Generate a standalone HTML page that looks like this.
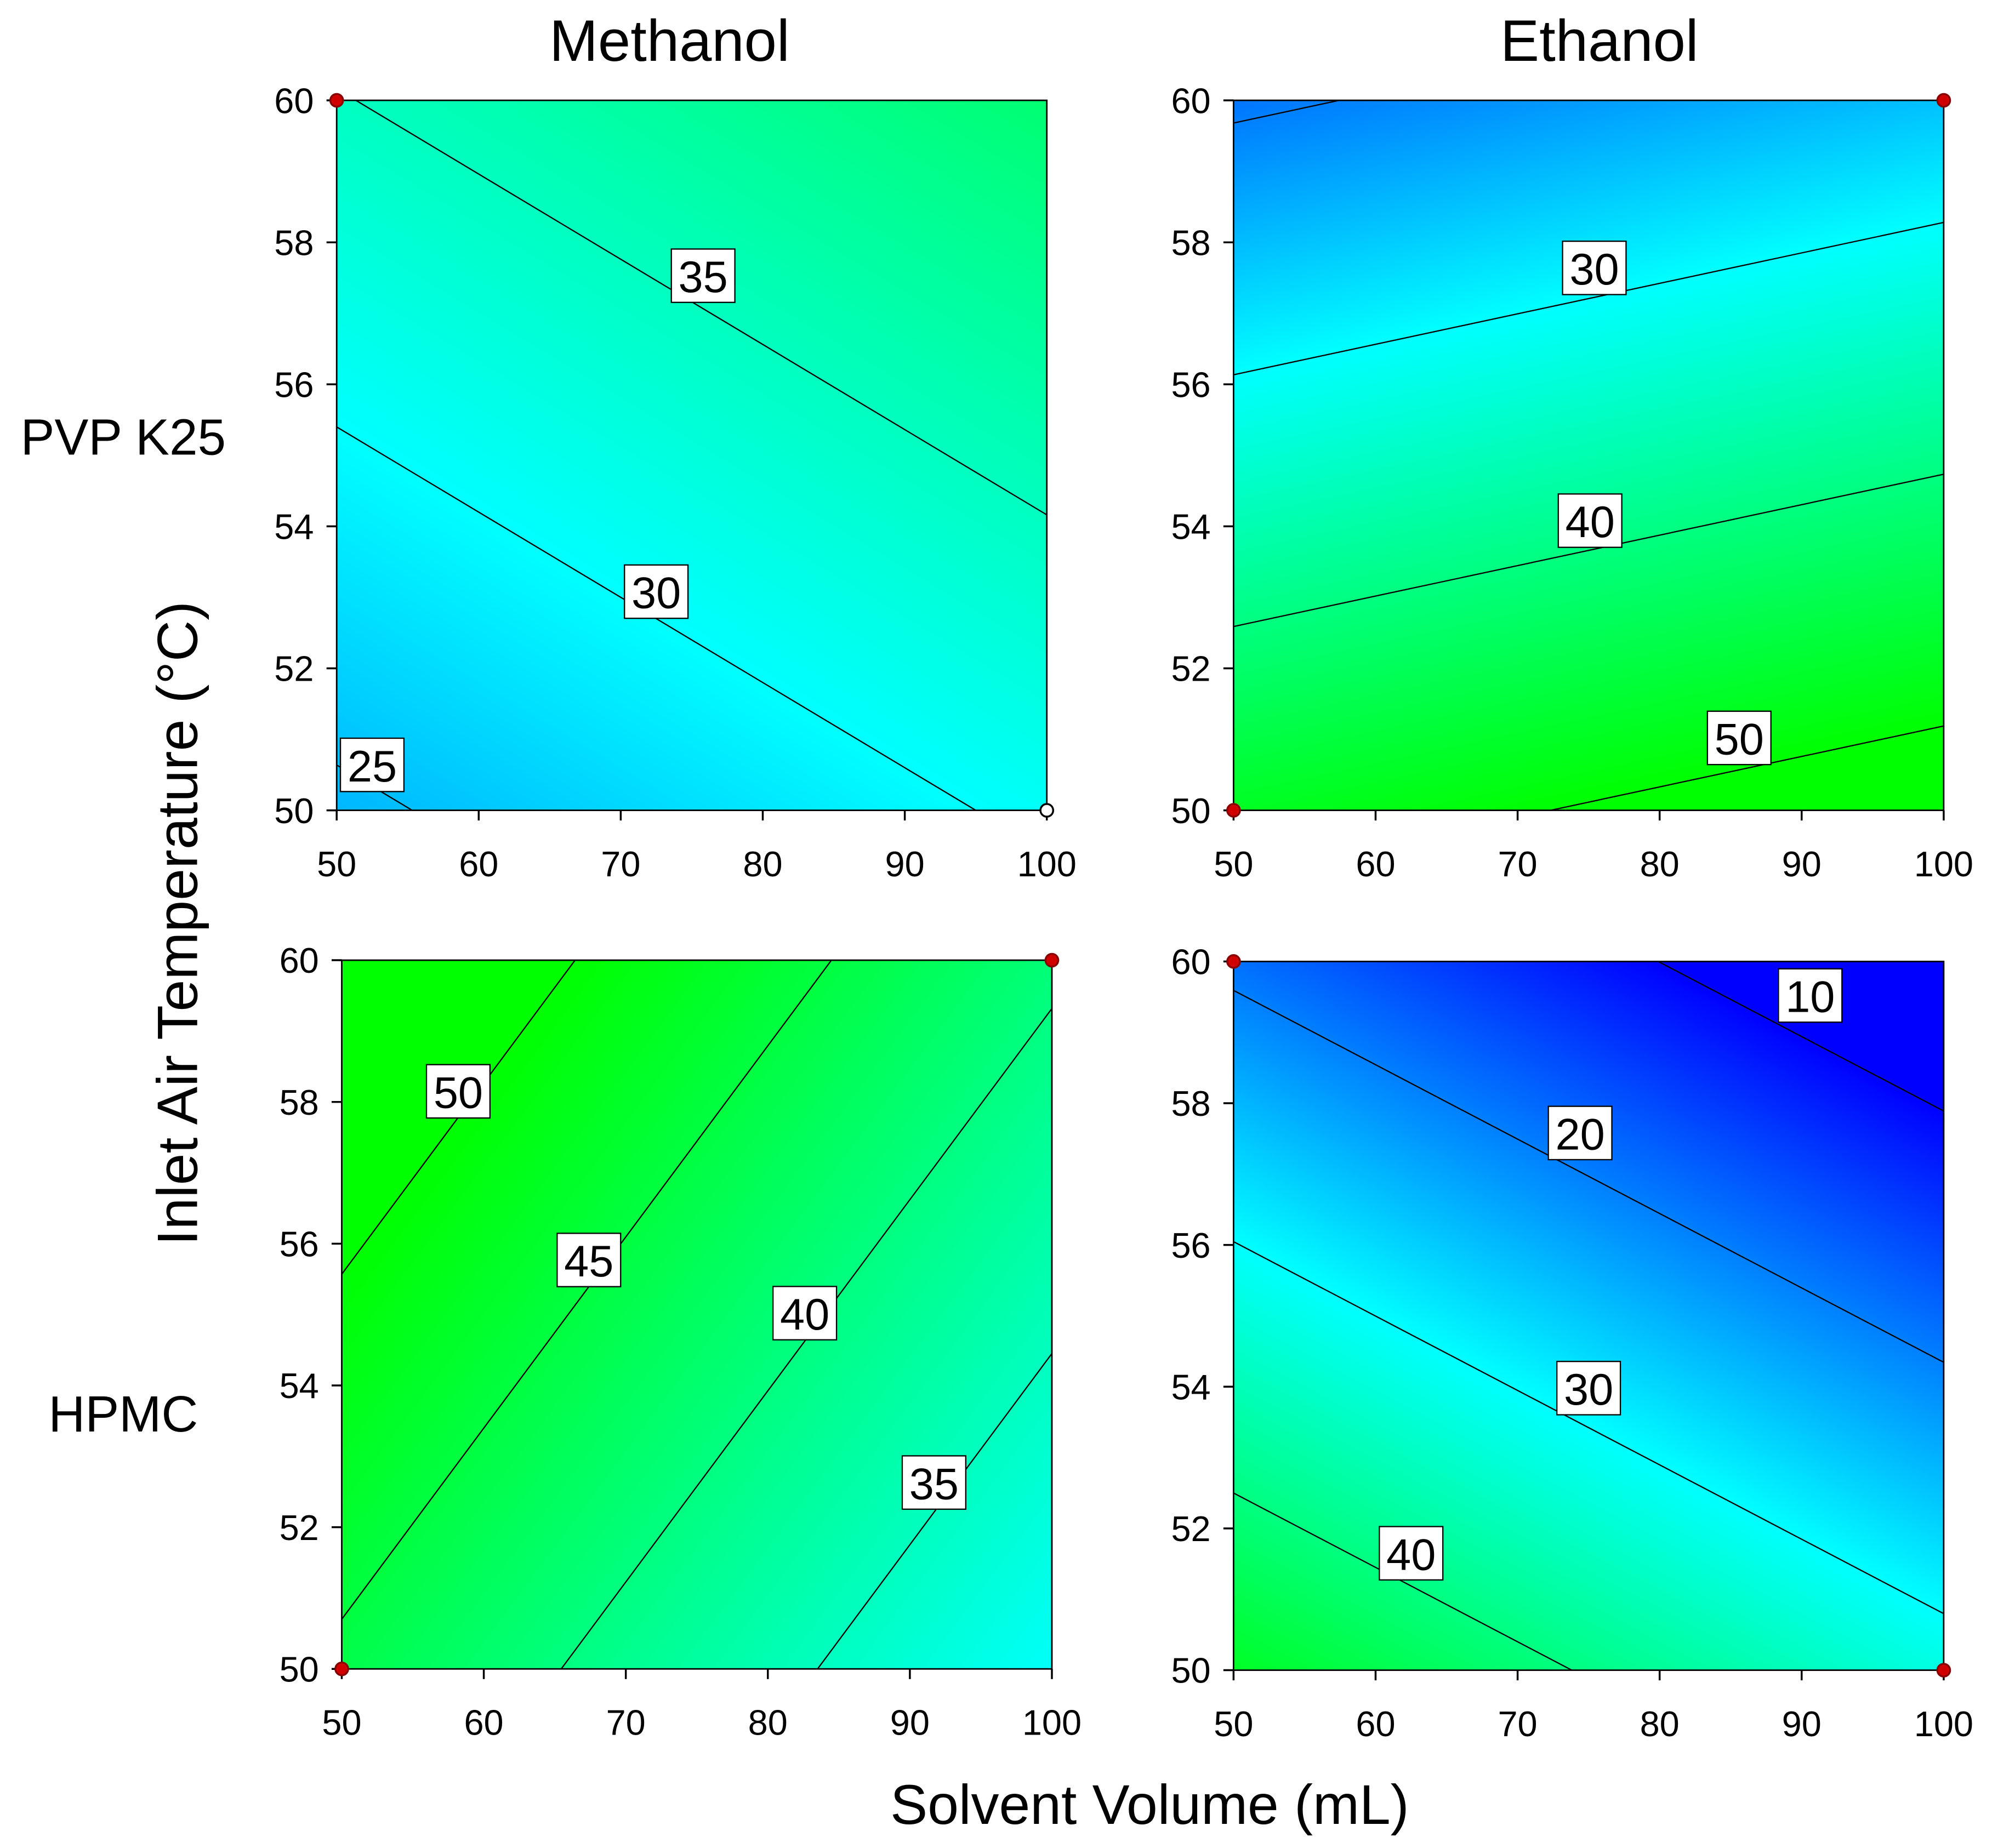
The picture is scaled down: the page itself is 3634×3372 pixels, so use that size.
<!DOCTYPE html>
<html><head><meta charset="utf-8"><style>
html,body{margin:0;padding:0;background:#fff;overflow:hidden;width:3634px;height:3372px;}
svg{display:block;font-family:"Liberation Sans",sans-serif;}
</style></head><body>
<svg id="chart" width="3634" height="3372" viewBox="0 0 1568 1455" xmlns="http://www.w3.org/2000/svg">
<defs id="defs"></defs>
<g id="plots"></g>
<text x="527" y="48" font-size="46" text-anchor="middle">Methanol</text>
<text x="1259" y="48" font-size="46" text-anchor="middle">Ethanol</text>
<text x="97" y="358" font-size="40" text-anchor="middle">PVP K25</text>
<text x="97" y="1127" font-size="40" text-anchor="middle">HPMC</text>
<text x="0" y="0" font-size="45" text-anchor="middle" transform="translate(155,727) rotate(-90)">Inlet Air Temperature (°C)</text>
<text x="905" y="1436" font-size="44" text-anchor="middle">Solvent Volume (mL)</text>
</svg>
<script>
// corner values: [v(50,50), v(100,50), v(50,60)]
const cornersTL = [24.33, 30.63, 34.83];
const cornersTR = [47.3, 53.35, 19.1];
const cornersBL = [44.28, 30.43, 54.55];
const cornersBR = [47.05, 32.25, 18.85];
const levelsTL = [25, 30, 35];
const levelsTR = [20, 30, 40, 50];
const levelsBL = [35, 40, 45, 50];
const levelsBR = [10, 20, 30, 40];
// [level, x, y] label anchor positions in data units
const labelsTL = [[25, 52.5, 50.64], [30, 72.5, 53.08], [35, 75.8, 57.53]];
const labelsTR = [[30, 75.4, 57.64], [40, 75.1, 54.08], [50, 85.6, 51.02]];
const labelsBL = [[50, 58.2, 58.15], [45, 67.4, 55.77], [40, 82.6, 55.02], [35, 91.7, 52.63]];
const labelsBR = [[10, 90.6, 59.52], [20, 74.4, 57.58], [30, 75, 53.98], [40, 62.5, 51.65]];
const pointsTL = [[50, 60, 'red'], [100, 50, 'open']];
const pointsTR = [[100, 60, 'red'], [50, 50, 'red']];
const pointsBL = [[100, 60, 'red'], [50, 50, 'red']];
const pointsBR = [[50, 60, 'red'], [100, 50, 'red']];
const xTicks = [50, 60, 70, 80, 90, 100];
const yTicks = [50, 52, 54, 56, 58, 60];

const NS = 'http://www.w3.org/2000/svg';
const plots = document.getElementById('plots');
const defs = document.getElementById('defs');
function mk(tag, attrs, parent) {
  const e = document.createElementNS(NS, tag);
  for (const k in attrs) e.setAttribute(k, attrs[k]);
  parent.appendChild(e); return e;
}
const panels = [
  {id: 'tl', L: 265, R: 824, T: 79, B: 638, c: cornersTL, lv: levelsTL, lb: labelsTL, pts: pointsTL},
  {id: 'tr', L: 971, R: 1530, T: 79, B: 638, c: cornersTR, lv: levelsTR, lb: labelsTR, pts: pointsTR},
  {id: 'bl', L: 269, R: 828, T: 756, B: 1314, c: cornersBL, lv: levelsBL, lb: labelsBL, pts: pointsBL},
  {id: 'br', L: 971, R: 1530, T: 757, B: 1315, c: cornersBR, lv: levelsBR, lb: labelsBR, pts: pointsBR}
];
panels.forEach(p => {
  const sx = (p.R - p.L) / 50, sy = (p.B - p.T) / 10;
  const X = x => p.L + (x - 50) * sx, Y = y => p.B - (y - 50) * sy;
  const v0 = p.c[0], b = (p.c[1] - p.c[0]) / 50, c = (p.c[2] - p.c[0]) / 10;
  const V = (x, y) => v0 + b * (x - 50) + c * (y - 50);
  const g = mk('g', {}, plots);
  
  
  const gx = b / sx, gy = -c / sy, g2 = gx * gx + gy * gy;
  const cx = (p.L + p.R) / 2, cy = (p.T + p.B) / 2, vc = V(75, 55);
  const P = v => [cx + gx * (v - vc) / g2, cy + gy * (v - vc) / g2];
  const p1 = P(10), p2 = P(50);
  const lg = mk('linearGradient', {id: 'grad-' + p.id, gradientUnits: 'userSpaceOnUse', x1: p1[0], y1: p1[1], x2: p2[0], y2: p2[1]}, defs);
  mk('stop', {offset: 0, 'stop-color': 'rgb(0,0,255)'}, lg);
  mk('stop', {offset: 0.5, 'stop-color': 'rgb(0,255,255)'}, lg);
  mk('stop', {offset: 1, 'stop-color': 'rgb(0,255,0)'}, lg);
  const cp = mk('clipPath', {id: 'clip-' + p.id}, defs);
  mk('rect', {x: p.L, y: p.T, width: p.R - p.L, height: p.B - p.T}, cp);
  const bg = mk('rect', {x: p.L, y: p.T, width: p.R - p.L, height: p.B - p.T, fill: 'url(#grad-' + p.id + ')'}, g);
  
  
  const cg = mk('g', {'clip-path': 'url(#clip-' + p.id + ')'}, g);
  p.lv.forEach(lv => {
    const yAt = x => 50 + (lv - v0 - b * (x - 50)) / c;
    const ln = mk('line', {x1: X(40), y1: Y(yAt(40)), x2: X(110), y2: Y(yAt(110)), stroke: '#000', 'stroke-width': 1}, cg);
    
    
  });
  p.lb.forEach(([lv, lx, ly]) => {
    const px = X(lx), py = Y(ly);
    const lg2 = mk('g', {}, g);
    
    
    mk('rect', {x: px - 25, y: py - 21, width: 50, height: 42, fill: '#fff', stroke: '#000', 'stroke-width': 1}, lg2);
    const t = mk('text', {x: px, y: py + 13, 'font-size': 35, 'text-anchor': 'middle'}, lg2);
    t.textContent = lv;
  });
  const fr = mk('rect', {x: p.L, y: p.T, width: p.R - p.L, height: p.B - p.T, fill: 'none', stroke: '#000', 'stroke-width': 1.2}, g);
  
  
  xTicks.forEach(t => {
    mk('line', {x1: X(t), y1: p.B, x2: X(t), y2: p.B + 8, stroke: '#000', 'stroke-width': 1.5}, g);
    const tx = mk('text', {x: X(t), y: p.B + 52, 'font-size': 28, 'text-anchor': 'middle'}, g);
    
    
    tx.textContent = t;
  });
  yTicks.forEach(t => {
    mk('line', {x1: p.L - 8, y1: Y(t), x2: p.L, y2: Y(t), stroke: '#000', 'stroke-width': 1.5}, g);
    const ty = mk('text', {x: p.L - 18, y: Y(t) + 10, 'font-size': 28, 'text-anchor': 'end'}, g);
    
    
    ty.textContent = t;
  });
  p.pts.forEach(([x, y, k]) => {
    const d = mk('circle', {cx: X(x), cy: Y(y), r: 5, fill: k === 'red' ? '#d00000' : '#fff', stroke: k === 'red' ? '#800' : '#000', 'stroke-width': 1.5}, g);
    
    
  });
});
</script>
</body></html>
